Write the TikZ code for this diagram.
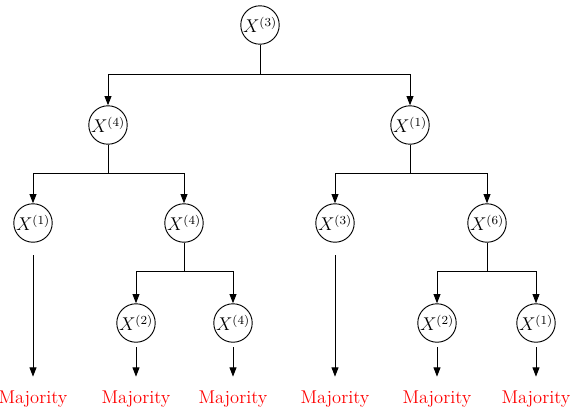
\documentclass[tikz,border=0pt]{standalone}
\usetikzlibrary{arrows.meta}
\begin{document}
\begin{tikzpicture}[x=0.65pt,y=-0.65pt,
  vnode/.style={draw,circle,minimum size=25pt,inner sep=0pt,line width=0.6pt,font=\large},
  arr/.style={-{Triangle[length=6pt,width=4.5pt]},line width=0.6pt},
  maj/.style={text=red,font=\large,inner sep=0pt}]
\useasboundingbox (0,0) rectangle (571,408);
\node[vnode] (r) at (260,25) {$X^{(3)}$};
\node[vnode] (a) at (108,125) {$X^{(4)}$};
\node[vnode] (b) at (410,125) {$X^{(1)}$};
\node[vnode] (aa) at (33,223) {$X^{(1)}$};
\node[vnode] (ab) at (184,223) {$X^{(4)}$};
\node[vnode] (ba) at (335,223) {$X^{(3)}$};
\node[vnode] (bb) at (487,223) {$X^{(6)}$};
\node[vnode] (aba) at (136,323) {$X^{(2)}$};
\node[vnode] (abb) at (233,323) {$X^{(4)}$};
\node[vnode] (bba) at (437,323) {$X^{(2)}$};
\node[vnode] (bbb) at (536,323) {$X^{(1)}$};
\node[maj] (m1) at (33,399) {Majority};
\node[maj] (m2) at (136,399) {Majority};
\node[maj] (m3) at (233,399) {Majority};
\node[maj] (m4) at (335,399) {Majority};
\node[maj] (m5) at (437,399) {Majority};
\node[maj] (m6) at (536,399) {Majority};
\coordinate (h0) at (260,74);
\coordinate (h1) at (108,173);
\coordinate (h2) at (410,173);
\coordinate (h3) at (184,271);
\coordinate (h4) at (487,271);
\draw[arr] (r.south) -- (h0) -| (a.north);
\draw[arr] (r.south) -- (h0) -| (b.north);
\draw[arr] (a.south) -- (h1) -| (aa.north);
\draw[arr] (a.south) -- (h1) -| (ab.north);
\draw[arr] (b.south) -- (h2) -| (ba.north);
\draw[arr] (b.south) -- (h2) -| (bb.north);
\draw[arr] (ab.south) -- (h3) -| (aba.north);
\draw[arr] (ab.south) -- (h3) -| (abb.north);
\draw[arr] (bb.south) -- (h4) -| (bba.north);
\draw[arr] (bb.south) -- (h4) -| (bbb.north);
\draw[arr,shorten <=8pt] (aa.south) -- ([yshift=9pt]m1.north);
\draw[arr,shorten <=3pt] (aba.south) -- ([yshift=9pt]m2.north);
\draw[arr,shorten <=3pt] (abb.south) -- ([yshift=9pt]m3.north);
\draw[arr,shorten <=8pt] (ba.south) -- ([yshift=9pt]m4.north);
\draw[arr,shorten <=3pt] (bba.south) -- ([yshift=9pt]m5.north);
\draw[arr,shorten <=3pt] (bbb.south) -- ([yshift=9pt]m6.north);
\end{tikzpicture}
\end{document}
